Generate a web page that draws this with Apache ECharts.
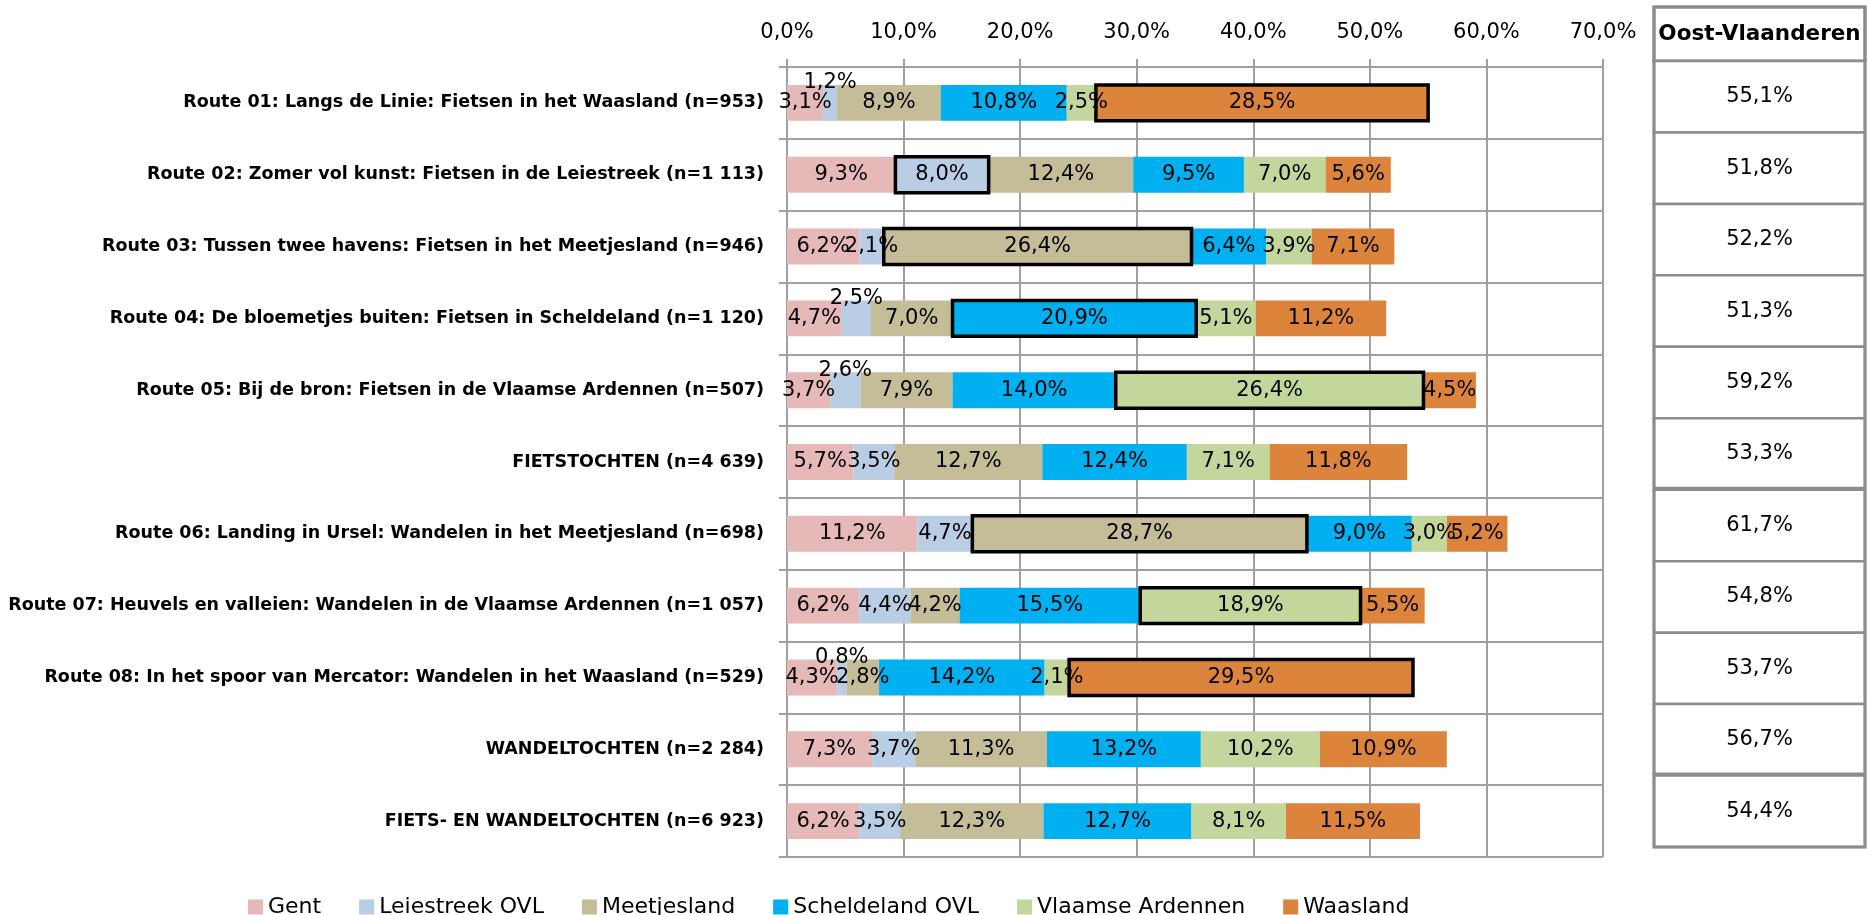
<!DOCTYPE html>
<html>
<head>
<meta charset="utf-8">
<style>html,body{margin:0;padding:0;background:#fff}#c{width:1870px;height:915px}</style>
<script src="https://cdn.jsdelivr.net/npm/echarts@6/dist/echarts.min.js"></script>
</head>
<body>
<div id="c"></div>
<script>
const categories = [
  "Route 01: Langs de Linie: Fietsen in het Waasland (n=953)",
  "Route 02: Zomer vol kunst: Fietsen in de Leiestreek (n=1 113)",
  "Route 03: Tussen twee havens: Fietsen in het Meetjesland (n=946)",
  "Route 04: De bloemetjes buiten: Fietsen in Scheldeland (n=1 120)",
  "Route 05: Bij de bron: Fietsen in de Vlaamse Ardennen (n=507)",
  "FIETSTOCHTEN (n=4 639)",
  "Route 06: Landing in Ursel: Wandelen in het Meetjesland (n=698)",
  "Route 07: Heuvels en valleien: Wandelen in de Vlaamse Ardennen (n=1 057)",
  "Route 08: In het spoor van Mercator: Wandelen in het Waasland (n=529)",
  "WANDELTOCHTEN (n=2 284)",
  "FIETS- EN WANDELTOCHTEN (n=6 923)"
];
const seriesNames = ["Gent", "Leiestreek OVL", "Meetjesland", "Scheldeland OVL", "Vlaamse Ardennen", "Waasland"];
const gent        = [3.1, 9.3, 6.2, 4.7, 3.7, 5.7, 11.2, 6.2, 4.3, 7.3, 6.2];
const leiestreek  = [1.2, 8.0, 2.1, 2.5, 2.6, 3.5, 4.7, 4.4, 0.8, 3.7, 3.5];
const meetjesland = [8.9, 12.4, 26.4, 7.0, 7.9, 12.7, 28.7, 4.2, 2.8, 11.3, 12.3];
const scheldeland = [10.8, 9.5, 6.4, 20.9, 14.0, 12.4, 9.0, 15.5, 14.2, 13.2, 12.7];
const ardennen    = [2.5, 7.0, 3.9, 5.1, 26.4, 7.1, 3.0, 18.9, 2.1, 10.2, 8.1];
const waasland    = [28.5, 5.6, 7.1, 11.2, 4.5, 11.8, 5.2, 5.5, 29.5, 10.9, 11.5];
const oostVlaanderen = [55.1, 51.8, 52.2, 51.3, 59.2, 53.3, 61.7, 54.8, 53.7, 56.7, 54.4];
const tableHeader = "Oost-Vlaanderen";
// index of the series whose segment is outlined in each row (-1 = none)
const highlighted = [5, 1, 2, 3, 4, -1, 2, 4, 5, -1, -1];
// [row, series] of the small segments whose label sits above the bar
const raisedLabels = [[0, 1], [3, 1], [4, 1], [8, 1]];
const xTicks = {min: 0, max: 70, interval: 10};

const colors = ["#E6B9B8", "#B9CDE5", "#C4BD97", "#00B0F0", "#C3D69B", "#DD843C"];
const allValues = [gent, leiestreek, meetjesland, scheldeland, ardennen, waasland];
const FONT = "DejaVu Sans";
const BAR_RATIO = 0.5;
const GRID_COLOR = "#A0A0A0";
const fmt = v => v.toFixed(1).replace('.', ',') + '%';
const isRaised = (r, s) => raisedLabels.some(([rr, ss]) => rr === r && ss === s);

const barSeries = allValues.map((vals, s) => ({
  name: seriesNames[s],
  type: 'bar',
  stack: 'total',
  barWidth: (BAR_RATIO * 100) + '%',
  itemStyle: {color: colors[s]},
  label: {show: true, position: 'inside', color: '#000', fontFamily: FONT, fontSize: 21,
          formatter: p => fmt(p.value)},
  labelLayout: params => isRaised(params.dataIndex, s) ? {dy: -20, hideOverlap: false} : {hideOverlap: false},
  data: vals,
  z: 2
}));

// outline boxes computed from stacked data
const outlineData = [];
highlighted.forEach((s, r) => {
  if (s < 0) return;
  let start = 0;
  for (let k = 0; k < s; k++) start += allValues[k][r];
  outlineData.push([r, start, start + allValues[s][r]]);
});

const outlineSeries = {
  type: 'custom',
  xAxisIndex: 0, yAxisIndex: 0,
  z: 10,
  silent: true,
  encode: {x: [1, 2], y: 0},
  data: outlineData,
  renderItem: (params, api) => {
    const p0 = api.coord([api.value(1), api.value(0)]);
    const p1 = api.coord([api.value(2), api.value(0)]);
    const h = api.size([0, 1])[1] * BAR_RATIO;
    return {type: 'rect', shape: {x: p0[0], y: p0[1] - h / 2, width: p1[0] - p0[0], height: h},
            style: {fill: 'none', stroke: '#000', lineWidth: 3.5}};
  }
};

const tableSeries = {
  type: 'custom',
  xAxisIndex: 1, yAxisIndex: 1,
  silent: true,
  data: oostVlaanderen.map((v, i) => [i, v]),
  encode: {y: 0},
  renderItem: (params, api) => {
    const i = api.value(0);
    const a = api.coord([0, i]);
    const b = api.coord([1, i]);
    const h = api.size([0, 1])[1];
    const children = [
      {type: 'rect', shape: {x: a[0], y: a[1] - h / 2, width: b[0] - a[0], height: h},
       style: {fill: '#fff', stroke: '#8C8C8C', lineWidth: 2.5}},
      {type: 'text', x: (a[0] + b[0]) / 2, y: a[1],
       style: {text: fmt(api.value(1)), fill: '#000', font: '21px "' + FONT + '"', align: 'center', verticalAlign: 'middle'}}
    ];
    if (i === 5 || i === 9) {
      children.push({type: 'line', shape: {x1: a[0], y1: a[1] + h / 2, x2: b[0], y2: a[1] + h / 2},
                     style: {stroke: '#8C8C8C', lineWidth: 6}});
    }
    return {type: 'group', children};
  }
};

const chart = echarts.init(document.getElementById('c'), null, {renderer: 'canvas'});
chart.setOption({
  backgroundColor: '#fff',
  animation: false,
  textStyle: {fontFamily: FONT},
  grid: [
    {left: 787, right: 267, top: 67, bottom: 58},
    {left: 1654, width: 211, top: 61, height: 786}
  ],
  legend: {
    data: seriesNames,
    left: 243, top: 891,
    itemWidth: 15, itemHeight: 15, itemGap: 38,
    icon: 'rect',
    textStyle: {fontFamily: FONT, fontSize: 22, color: '#000'},
    selectedMode: false
  },
  xAxis: [
    {type: 'value', position: 'top', min: xTicks.min, max: xTicks.max, interval: xTicks.interval,
     axisLine: {show: true, lineStyle: {color: GRID_COLOR, width: 2}},
     axisTick: {show: true, inside: false, length: 8, lineStyle: {color: GRID_COLOR, width: 2}},
     axisLabel: {formatter: v => fmt(v), color: '#000', fontFamily: FONT, fontSize: 21, margin: 24},
     splitLine: {show: true, lineStyle: {color: GRID_COLOR, width: 2}}},
    {gridIndex: 1, type: 'value', min: 0, max: 1, show: false}
  ],
  yAxis: [
    {type: 'category', data: categories, inverse: true,
     axisLine: {show: true, lineStyle: {color: GRID_COLOR, width: 2}},
     axisTick: {show: true, length: 8, lineStyle: {color: GRID_COLOR, width: 2}},
     axisLabel: {color: '#000', fontFamily: FONT, fontWeight: 'bold', fontSize: 17.5, margin: 23},
     splitLine: {show: true, lineStyle: {color: GRID_COLOR, width: 2}}},
    {gridIndex: 1, type: 'category', data: categories, inverse: true, show: false}
  ],
  graphic: [
    {type: 'rect', shape: {x: 1654, y: 7, width: 211, height: 54},
     style: {fill: '#fff', stroke: '#8C8C8C', lineWidth: 3}},
    {type: 'text', x: 1759.5, y: 34,
     style: {text: tableHeader, fill: '#000', font: 'bold 21.5px "' + FONT + '"', align: 'center', verticalAlign: 'middle'}},
    {type: 'rect', z: 100, shape: {x: 1654, y: 7, width: 211, height: 840},
     style: {fill: 'none', stroke: '#8C8C8C', lineWidth: 3}}
  ],
  series: [...barSeries, outlineSeries, tableSeries]
});
</script>
</body>
</html>
